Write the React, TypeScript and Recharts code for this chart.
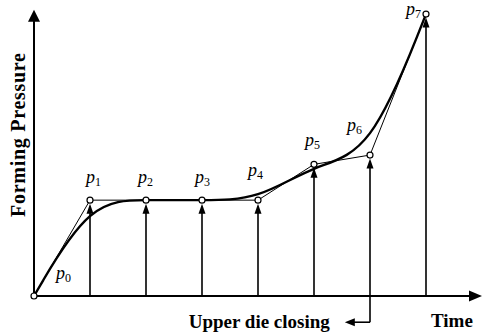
import { ComposedChart, Line, XAxis, YAxis, ReferenceLine } from "recharts";

// control points of the pressure profile (time step, forming pressure)
const times = [0, 1, 2, 3, 4, 5, 6, 7];
const pressures = [0, 3.4, 3.4, 3.4, 3.4, 4.67, 5.0, 10];
const pointNames = ["0", "1", "2", "3", "4", "5", "6", "7"];

// the die closes at the p6 step
const closingTime = 6;
const closingArrowTo = 5.55;
const closingDrop = -0.93;

const xLabel = "Time";
const yLabel = "Forming Pressure";
const closingLabel = "Upper die closing";

const data = times.map((t, i) => ({ t, p: pressures[i], name: pointNames[i] }));

// where each p_i label sits relative to its point
const labelOffsets = [
  [22, -17],
  [-4, -17],
  [-8, -17],
  [-7, -17],
  [-10, -24],
  [-9, -18],
  [-23, -24],
  [-20, 1],
];

const serif = "'Liberation Serif', 'Times New Roman', serif";

function ArrowLine(props: any) {
  const { x1, y1, x2, y2, width = 1.6, head = 10, half = 3.5, gap = 0 } = props;
  const dx = x2 - x1;
  const dy = y2 - y1;
  const len = Math.hypot(dx, dy) || 1;
  const ux = dx / len;
  const uy = dy / len;
  const tx = x2 - ux * gap;
  const ty = y2 - uy * gap;
  const bx = tx - ux * head;
  const by = ty - uy * head;
  const px = -uy;
  const py = ux;
  return (
    <g>
      <line x1={x1} y1={y1} x2={bx + ux} y2={by + uy} stroke="#000" strokeWidth={width} />
      <polygon
        points={`${tx},${ty} ${bx + px * half},${by + py * half} ${bx - px * half},${by - py * half}`}
        fill="#000"
      />
    </g>
  );
}

function ControlDot(props: any) {
  const { cx, cy, index, payload } = props;
  const [dx, dy] = labelOffsets[index];
  return (
    <g key={`dot-${index}`}>
      <circle cx={cx} cy={cy} r={3} fill="#fff" stroke="#000" strokeWidth={1.2} />
      <text
        x={cx + dx}
        y={cy + dy}
        fontFamily={serif}
        fontStyle="italic"
        fontSize={18}
        fill="#000"
      >
        p
        <tspan fontStyle="normal" fontSize={12} dy={3}>
          {payload.name}
        </tspan>
      </text>
    </g>
  );
}

export default function App() {
  return (
    <div style={{ width: 484, height: 336 }}>
      <style>{"body{margin:0}"}</style>
      <ComposedChart
        width={484}
        height={336}
        data={data}
        margin={{ top: 0, right: 2, bottom: 40, left: 34 }}
      >
        <XAxis dataKey="t" type="number" domain={[0, 8]} hide />
        <YAxis type="number" domain={[0, 10.5]} hide />

        {/* axes with arrow heads */}
        <ReferenceLine
          segment={[{ x: 0, y: 0 }, { x: 8, y: 0 }]}
          ifOverflow="visible"
          shape={(p: any) => <ArrowLine {...p} width={2} head={13} half={5.5} />}
        />
        <ReferenceLine
          segment={[{ x: 0, y: 0 }, { x: 0, y: 10.15 }]}
          ifOverflow="visible"
          shape={(p: any) => <ArrowLine {...p} width={2} head={12} half={6} />}
        />

        {/* verticals from the time axis to each control point */}
        {data.slice(1).map((d) => (
          <ReferenceLine
            key={`v-${d.t}`}
            segment={[{ x: d.t, y: 0 }, { x: d.t, y: d.p }]}
            ifOverflow="visible"
            shape={(p: any) => <ArrowLine {...p} gap={3.5} />}
          />
        ))}

        {/* upper die closing marker */}
        <ReferenceLine
          segment={[{ x: closingTime, y: 0 }, { x: closingTime, y: closingDrop }]}
          ifOverflow="visible"
          stroke="#000"
          strokeWidth={1.6}
        />
        <ReferenceLine
          segment={[{ x: closingTime, y: closingDrop }, { x: closingArrowTo, y: closingDrop }]}
          ifOverflow="visible"
          shape={(p: any) => (
            <g>
              <ArrowLine {...p} width={1.6} head={10} half={4} />
              <text
                x={p.x2 - 15}
                y={p.y2 + 6}
                textAnchor="end"
                fontFamily={serif}
                fontWeight="bold"
                fontSize={19}
                fill="#000"
              >
                {closingLabel}
              </text>
            </g>
          )}
        />

        <Line
          dataKey="p"
          type="basis"
          stroke="#000"
          strokeWidth={2.4}
          dot={false}
          activeDot={false}
          isAnimationActive={false}
        />
        <Line
          dataKey="p"
          type="linear"
          stroke="#000"
          strokeWidth={1}
          dot={(props: any) => <ControlDot {...props} />}
          activeDot={false}
          isAnimationActive={false}
        />

        <text x={431} y={327} fontFamily={serif} fontWeight="bold" fontSize={19} fill="#000">
          {xLabel}
        </text>
        <text
          transform="translate(25,135) rotate(-90)"
          textAnchor="middle"
          fontFamily={serif}
          fontWeight="bold"
          fontSize={20}
          textLength={164}
          fill="#000"
        >
          {yLabel}
        </text>
      </ComposedChart>
    </div>
  );
}
